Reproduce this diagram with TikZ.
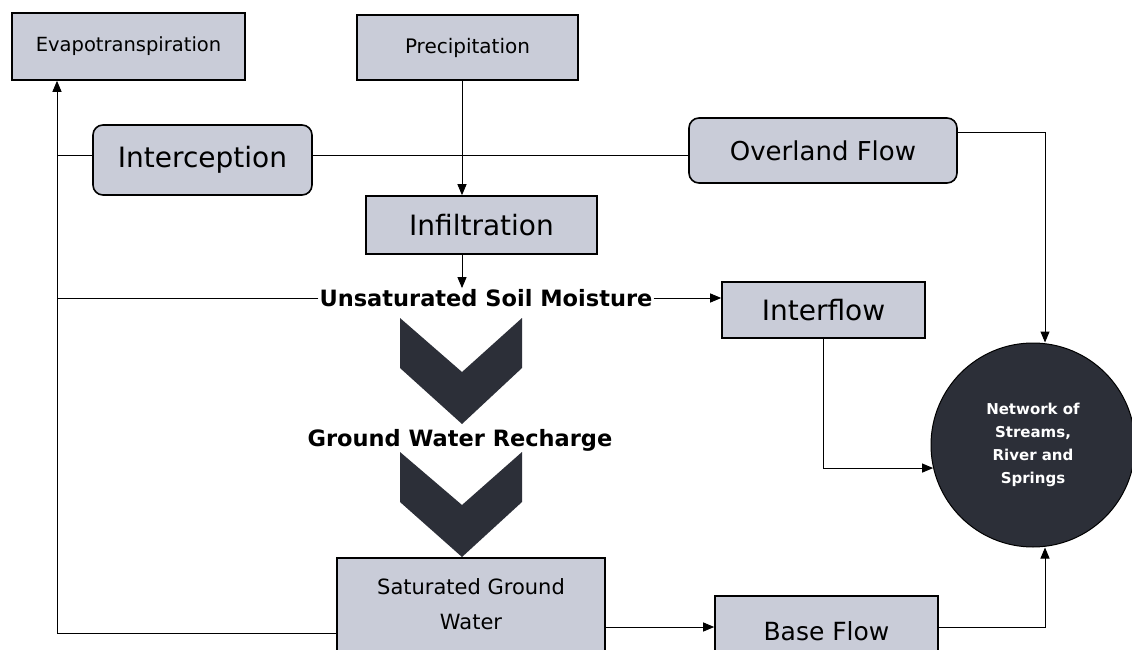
\documentclass[tikz,border=0pt]{standalone}
\usepackage{fontspec}
\setmainfont{DejaVu Sans}
\usetikzlibrary{arrows.meta}
\definecolor{boxfill}{HTML}{C9CCD8}
\definecolor{dark}{HTML}{2C2F38}
\tikzset{
  box/.style={draw=black, line width=1.6pt, fill=boxfill, inner sep=0pt, align=center},
  rbox/.style={box, rounded corners=10pt},
  conn/.style={draw=black, line width=1pt},
  arr/.style={conn, -{Triangle[length=11pt,width=9pt]}},
  lbl/.style={font=\bfseries\fontsize{22.5}{26}\selectfont, inner sep=1pt},
}
\begin{document}
\begin{tikzpicture}[x=1pt,y=-1pt]
\useasboundingbox (0,0) rectangle (1132,650);
\fill[white] (0,0) rectangle (1132,650);
% boxes
\node[box, minimum width=233pt, minimum height=67pt, font=\fontsize{19.5}{22}\selectfont] (evap) at (128.5,46.5) {Evapotranspiration};
\node[box, minimum width=221pt, minimum height=65pt, font=\fontsize{20}{22}\selectfont] (prec) at (467.5,47.5) {Precipitation};
\node[rbox, minimum width=219pt, minimum height=70pt, font=\fontsize{28}{32}\selectfont] (intc) at (202.5,160) {Interception};
\node[rbox, minimum width=268pt, minimum height=65pt, font=\fontsize{26}{30}\selectfont] (over) at (823,150.5) {Overland Flow};
\node[box, minimum width=231pt, minimum height=58pt, font=\fontsize{28}{32}\selectfont] (infl) at (481.5,225) {Infiltration};
\node[box, minimum width=203pt, minimum height=56pt, font=\fontsize{28}{32}\selectfont] (intf) at (823.5,310) {Interflow};
\node[box, minimum width=268pt, minimum height=150pt, anchor=north] (sat) at (471,557) {};
\node[align=center, font=\fontsize{21}{35}\selectfont] (sattxt) at (471,604) {Saturated Ground\\Water};
\node[box, minimum width=223pt, minimum height=70pt, anchor=north, font=\fontsize{25}{30}\selectfont] (base) at (826.5,595) {\raisebox{-12pt}{Base Flow}};
% circle
\node[circle, draw=black, line width=1pt, fill=dark, minimum size=204pt, inner sep=0pt, align=center, text=white, font=\bfseries\fontsize{15}{23}\selectfont] (net) at (1033,445) {Network of\\Streams,\\River and\\Springs};
% labels
\node[lbl] (unsat) at (486,298) {Unsaturated Soil Moisture};
\node[lbl] (gwr) at (460,440) {Ground Water Recharge};
% chevrons
\fill[dark] (400,318) -- (462,372) -- (522,318) -- (522,368) -- (462,424) -- (400,368) -- cycle;
\fill[dark] (400,452) -- (462,505) -- (522,452) -- (522,502) -- (462,557) -- (400,502) -- cycle;
% helper coordinates
\coordinate (lx) at (57,633);
\coordinate (cx) at (462,0);
\coordinate (rx) at (1045,0);
\coordinate (midy) at (0,155);
\coordinate (ovy) at (0,133);
\coordinate (bfy) at (0,627);
% connectors
\draw[arr] (sat.west |- lx) -- (lx) -- (lx |- evap.south);
\draw[conn] (intc.west |- midy) -- (lx |- midy);
\draw[conn] (intc.east |- midy) -- (over.west |- midy);
\draw[arr] (prec.south -| cx) -- (infl.north -| cx);
\draw[arr] (infl.south -| cx) -- (unsat.north -| cx);
\draw[conn] (unsat.west) -- (unsat.west -| lx);
\draw[arr] (unsat.east) -- (intf.west |- unsat.east);
\draw[arr] (over.east |- ovy) -| (rx |- net.north);
\draw[arr] (intf.south) |- (net.193);
\draw[arr] (sat.east |- bfy) -- (base.west |- bfy);
\draw[arr] (base.east |- bfy) -| (rx |- net.south);
\end{tikzpicture}
\end{document}
